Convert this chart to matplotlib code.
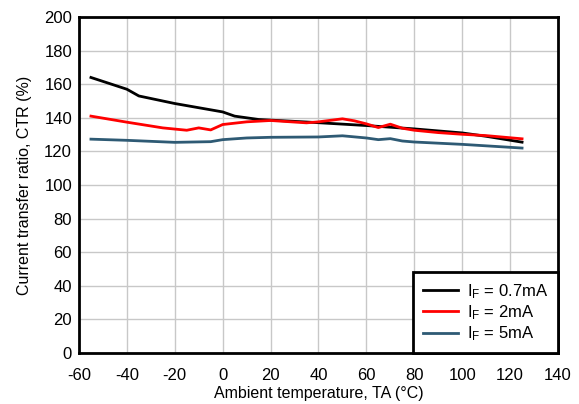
import matplotlib
matplotlib.use("Agg")
import matplotlib.pyplot as plt

plt.rcParams['font.family'] = ['Liberation Sans', 'DejaVu Sans']
plt.rcParams['mathtext.fontset'] = 'custom'
plt.rcParams['mathtext.rm'] = 'Liberation Sans'
plt.rcParams['axes.unicode_minus'] = False

t_black = [-55, -40, -35, -20, 0, 5, 15, 35, 60, 80, 100, 110, 125]
ctr_black = [164, 157, 153, 148.5, 143.5, 141, 139, 137.5, 135.4, 133.4, 131, 129, 125.5]

t_red = [-55, -40, -25, -15, -10, -5, 0, 10, 20, 35, 40, 50, 55, 60, 65, 70, 75, 80, 90, 100, 110, 125]
ctr_red = [141, 137.4, 134, 132.6, 134, 132.8, 136, 137.6, 138.4, 137, 137.6, 139.4, 138.2, 136.4, 134.2, 136.2, 133.8, 132.6, 131.2, 130.2, 129.4, 127.5]

t_blue = [-55, -40, -20, -5, 0, 10, 20, 40, 50, 60, 65, 70, 75, 80, 100, 125]
ctr_blue = [127.3, 126.6, 125.4, 125.8, 127, 128, 128.4, 128.6, 129.3, 128, 127, 127.6, 126.2, 125.6, 124.2, 122]

labels = [r'$\mathregular{I_F}$ = 0.7mA', r'$\mathregular{I_F}$ = 2mA', r'$\mathregular{I_F}$ = 5mA']
colors = ['#000000', '#ff0000', '#2e5a74']

fig = plt.figure(figsize=(5.79, 4.04), dpi=100)
ax = fig.add_axes([0.1364, 0.126, 0.8273, 0.832])

ax.plot(t_black, ctr_black, color=colors[0], lw=2, label=labels[0])
ax.plot(t_red, ctr_red, color=colors[1], lw=2, label=labels[1])
ax.plot(t_blue, ctr_blue, color=colors[2], lw=2, label=labels[2])

ax.set_xlim(-60, 140)
ax.set_ylim(0, 200)
ax.set_xticks(range(-60, 141, 20))
ax.set_yticks(range(0, 201, 20))
ax.grid(True, color='#c8c8c8', lw=1)
ax.set_axisbelow(True)
for s in ax.spines.values():
    s.set_linewidth(2)
ax.tick_params(length=0, labelsize=12)
ax.tick_params(axis='x', pad=11)
ax.tick_params(axis='y', pad=5)
ax.set_xlabel('Ambient temperature, TA (°C)', fontsize=11.5, labelpad=2)
ax.set_ylabel('Current transfer ratio, CTR (%)', fontsize=11.5, labelpad=9)

leg = ax.legend(loc='lower right', fontsize=12, frameon=True, fancybox=False,
                borderaxespad=0, handlelength=2.1, handletextpad=0.55,
                labelspacing=0.15, borderpad=0.6)
leg.get_frame().set_edgecolor('black')
leg.get_frame().set_linewidth(2)
leg.get_frame().set_alpha(1)

fig.savefig('out.png', dpi=100)
